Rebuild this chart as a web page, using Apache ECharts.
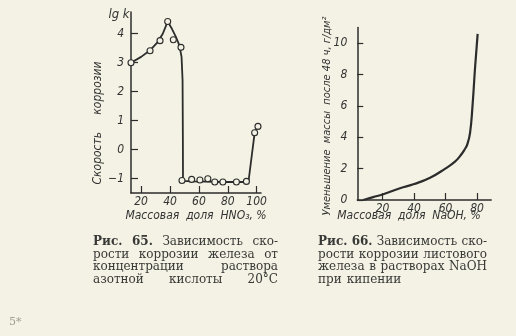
<!DOCTYPE html>
<html>
<head>
<meta charset="utf-8">
<script src="https://cdn.jsdelivr.net/npm/echarts@6/dist/echarts.min.js"></script>
<style>
html,body{margin:0;padding:0;background:#f4f2e4;}
#c{width:516px;height:336px;}
</style>
</head>
<body>
<div id="c"></div>
<script>
// ---- Fig. 65: lg k vs HNO3 mass fraction ----
const hno3CurveX = [13, 20, 26, 31, 35, 38.4, 41, 44, 46.5, 48, 48.7, 48.9, 49, 55, 65, 75, 85, 94.3, 98.6, 100.9];
const hno3CurveY = [3.0, 3.2, 3.42, 3.68, 4.0, 4.42, 4.2, 3.9, 3.6, 3.2, 2.4, 0.5, -1.08, -1.1, -1.11, -1.12, -1.12, -1.12, 0.58, 0.82];
const hno3PtsX = [13, 26.2, 33.1, 38.4, 42.3, 47.6, 48.3, 55, 60.7, 66.2, 71, 76.6, 86, 92.9, 98.6, 100.9];
const hno3PtsY = [3.0, 3.41, 3.76, 4.42, 3.79, 3.53, -1.07, -1.03, -1.05, -1.01, -1.12, -1.12, -1.12, -1.1, 0.58, 0.8];
const hno3XTicks = [20, 40, 60, 80, 100];
const hno3YTicks = [-1, 0, 1, 2, 3, 4];

// ---- Fig. 66: mass loss vs NaOH mass fraction ----
const naohX = [7.8, 14, 20.5, 31.1, 39.6, 50.2, 60.1, 66, 69.2, 72, 74, 75.6, 77.1, 78.8, 80.4];
const naohY = [0, 0.18, 0.37, 0.75, 1.0, 1.42, 2.02, 2.45, 2.8, 3.2, 3.6, 4.3, 5.96, 8.5, 10.6];
const naohXTicks = [20, 40, 60, 80];
const naohYTicks = [0, 2, 4, 6, 8, 10];

const INK = '#2c2c2c';
const PAPER = '#f4f2e4';
const AXFONT = '"Liberation Sans Narrow", "DejaVu Sans Condensed", "DejaVu Sans", sans-serif';
const SERIF = '"DejaVu Serif", "Liberation Serif", serif';

function valAxis(gi, min, max, ticks, labelMargin, tickLen) {
  return {
    type: 'value', gridIndex: gi, min: min, max: max,
    axisLine: {show: true, onZero: false, lineStyle: {color: INK, width: 1.5}},
    axisTick: {show: true, inside: true, length: tickLen, customValues: ticks, lineStyle: {color: INK, width: 1.2}},
    axisLabel: {show: true, customValues: ticks, margin: labelMargin, color: '#333',
      fontStyle: 'italic', fontFamily: AXFONT, fontSize: 12,
      formatter: function (v) {
        if (ticks.indexOf(v) < 0) return '';
        return v < 0 ? '\u2212' + Math.abs(v) : String(v);
      }},
    splitLine: {show: false}
  };
}

const chart = echarts.init(document.getElementById('c'), null, {renderer: 'canvas'});

// caption justification helper
const cv = document.createElement('canvas').getContext('2d');
const CAP_SIZE = 12;
function wWidth(t, b){ cv.font = (b ? 'bold ' : '') + CAP_SIZE + 'px ' + SERIF; return cv.measureText(t).width; }
function capLine(words, x0, x1, y, justify) {
  const els = [];
  const widths = words.map(w => wWidth(w[0], w[1]));
  const total = widths.reduce((a, b) => a + b, 0);
  const n = words.length;
  const gap = (justify && n > 1) ? (x1 - x0 - total) / (n - 1) : wWidth(' ', false) * 1.3;
  let x = x0;
  words.forEach((w, i) => {
    els.push({type: 'text', x: x, y: y, silent: true,
      style: {text: w[0], fill: '#383836', font: (w[1] ? 'bold ' : '') + CAP_SIZE + 'px ' + SERIF,
        textAlign: 'left', textVerticalAlign: 'middle', align: 'left', verticalAlign: 'middle'}});
    x += widths[i] + gap;
  });
  return els;
}

let graphics = [];
const L0 = 93, L1 = 278, R0 = 318, R1 = 487;
const capY = [242, 254.5, 267, 279.5];
graphics = graphics.concat(
  capLine([['Рис.', 1], ['65.', 1], ['Зависимость', 0], ['ско-', 0]], L0, L1, capY[0], true),
  capLine([['рости', 0], ['коррозии', 0], ['железа', 0], ['от', 0]], L0, L1, capY[1], true),
  capLine([['концентрации', 0], ['раствора', 0]], L0, L1, capY[2], true),
  capLine([['азотной', 0], ['кислоты', 0], ['20°С', 0]], L0, L1, capY[3], true),
  capLine([['Рис.', 1], ['66.', 1], ['Зависимость', 0], ['ско-', 0]], R0, R1, capY[0], true),
  capLine([['рости', 0], ['коррозии', 0], ['листового', 0]], R0, R1, capY[1], true),
  capLine([['железа', 0], ['в', 0], ['растворах', 0], ['NaOH', 0]], R0, R1, capY[2], true),
  capLine([['при', 0], ['кипении', 0]], R0, R1, capY[3], false)
);

function tx(text, x, y, size, opts) {
  opts = opts || {};
  return {type: 'text', x: x, y: y, rotation: opts.rot || 0, silent: true,
    style: {text: text, fill: opts.fill || '#333',
      font: (opts.upright ? '' : 'italic ') + size + 'px ' + (opts.family || AXFONT),
      textAlign: opts.align || 'center', textVerticalAlign: 'middle',
      align: opts.align || 'center', verticalAlign: 'middle'}};
}
graphics.push(
  tx('lg k', 119, 15, 13),
  tx('Скорость     коррозии', 98, 123, 12, {rot: Math.PI / 2}),
  tx('Массовая  доля  HNO\u2083, %', 196, 216, 12),
  tx('Уменьшение  массы  после 48 ч, г/дм\u00b2', 327, 116, 11, {rot: Math.PI / 2}),
  tx('Массовая  доля  NaOH, %', 409, 216, 12),
  tx('5*', 9, 322, 11, {upright: true, family: SERIF, fill: '#a09f95', align: 'left'})
);

const option = {
  backgroundColor: PAPER,
  animation: false,
  grid: [
    {left: 131, top: 12, width: 130, height: 181},
    {left: 357.3, top: 27.6, width: 133.9, height: 172.4}
  ],
  xAxis: [
    valAxis(0, 13, 103, hno3XTicks, 3, 7),
    valAxis(1, 4, 89, naohXTicks, 3, 7)
  ],
  yAxis: [
    valAxis(0, -1.5, 4.75, hno3YTicks, 7, 7),
    valAxis(1, 0, 11, naohYTicks, 10, 6)
  ],
  series: [
    {type: 'line', xAxisIndex: 0, yAxisIndex: 0, showSymbol: false, symbol: 'none',
      data: hno3CurveX.map((x, i) => [x, hno3CurveY[i]]),
      lineStyle: {color: INK, width: 1.8}, z: 2},
    {type: 'scatter', xAxisIndex: 0, yAxisIndex: 0, symbol: 'circle', symbolSize: 6,
      data: hno3PtsX.map((x, i) => [x, hno3PtsY[i]]),
      itemStyle: {color: PAPER, opacity: 1, borderColor: INK, borderWidth: 1.1}, z: 3},
    {type: 'line', xAxisIndex: 1, yAxisIndex: 1, showSymbol: false, symbol: 'none',
      smooth: 0.5,
      data: naohX.map((x, i) => [x, naohY[i]]),
      lineStyle: {color: INK, width: 2.2}, z: 2}
  ],
  graphic: graphics
};
chart.setOption(option);
</script>
</body>
</html>
